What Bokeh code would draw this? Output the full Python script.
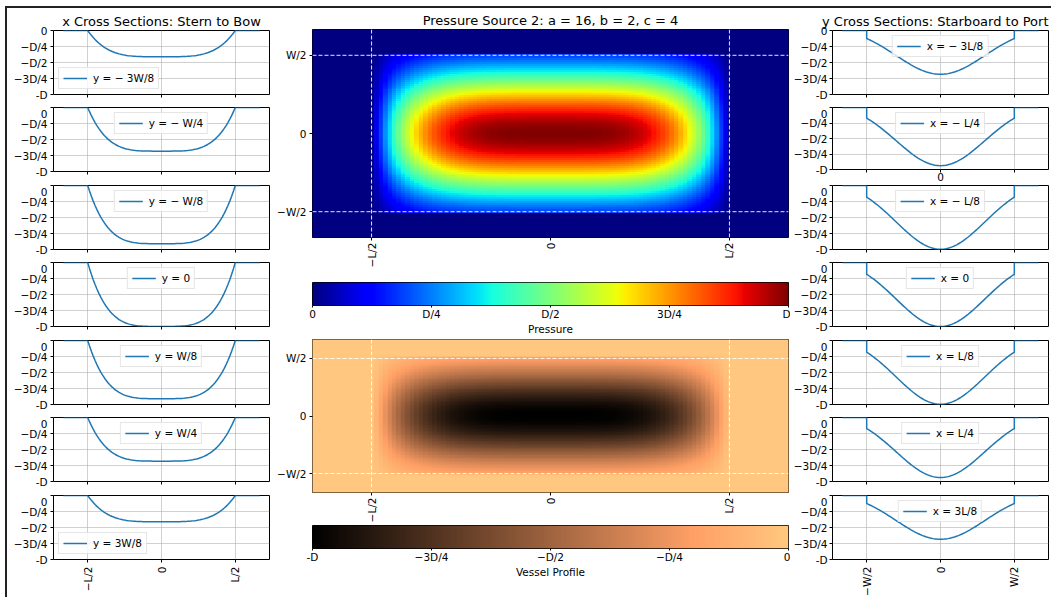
import numpy as np
from bokeh.plotting import figure
from bokeh.layouts import row, column
from bokeh.models import (FixedTicker, LinearColorMapper, Span, Range1d, Div,
                          InlineStyleSheet)
from bokeh.embed import file_html
from bokeh.resources import INLINE

# ---------------- data ----------------
# normalised positions along half length (units of L) / half beam (units of W)
profile_pos = [0.0, 0.0125, 0.025, 0.0375, 0.05, 0.0625, 0.075, 0.0875, 0.1, 0.1125,
               0.125, 0.1375, 0.15, 0.1625, 0.175, 0.1875, 0.2, 0.2125, 0.225, 0.2375,
               0.25, 0.2625, 0.275, 0.2875, 0.3, 0.3125, 0.325, 0.3375, 0.35, 0.3625,
               0.375, 0.3875, 0.4, 0.4125, 0.425, 0.4375, 0.45, 0.4625, 0.475, 0.4875, 0.5]
# relative pressure / depth along the length (x) and across the beam (y)
length_profile = [1.0, 1.0, 1.0, 1.0, 1.0, 1.0, 0.999, 0.999, 0.998, 0.997,
                  0.996, 0.994, 0.992, 0.989, 0.985, 0.980, 0.974, 0.967, 0.959, 0.949,
                  0.938, 0.924, 0.909, 0.891, 0.870, 0.847, 0.821, 0.792, 0.760, 0.724,
                  0.684, 0.639, 0.590, 0.537, 0.478, 0.414, 0.344, 0.268, 0.185, 0.096, 0.0]
beam_profile = [1.0, 0.999, 0.996, 0.992, 0.985, 0.977, 0.967, 0.955, 0.942, 0.927,
                0.910, 0.892, 0.873, 0.852, 0.831, 0.808, 0.784, 0.759, 0.734, 0.708,
                0.682, 0.654, 0.627, 0.600, 0.572, 0.544, 0.517, 0.490, 0.463, 0.436,
                0.410, 0.384, 0.359, 0.334, 0.310, 0.287, 0.265, 0.243, 0.223, 0.203, 0.184]
domain_half = 0.665          # half extent of the computational domain (L and W units)
hull_edges = [-0.5, 0.5]     # -L/2, L/2  and  -W/2, W/2

y_sections = [-0.375, -0.25, -0.125, 0.0, 0.125, 0.25, 0.375]
y_section_labels = ["y = − 3W/8", "y = − W/4", "y = − W/8", "y = 0",
                    "y = W/8", "y = W/4", "y = 3W/8"]
y_legend_loc = ["bottom_left", "top_center", "top_center", "top_center",
                "top_center", "top_center", "bottom_left"]
x_sections = [-0.375, -0.25, -0.125, 0.0, 0.125, 0.25, 0.375]
x_section_labels = ["x = − 3L/8", "x = − L/4", "x = − L/8", "x = 0",
                    "x = L/8", "x = L/4", "x = 3L/8"]

depth_ticks = [0.0, -0.25, -0.5, -0.75, -1.0]
depth_tick_labels = ["0", "−D/4", "−D/2", "−3D/4", "-D"]
pos_ticks = [-0.5, 0.0, 0.5]
length_tick_labels = ["−L/2", "0", "L/2"]
beam_tick_labels = ["−W/2", "0", "W/2"]
pressure_ticks = [0.0, 0.25, 0.5, 0.75, 1.0]
pressure_tick_labels = ["0", "D/4", "D/2", "3D/4", "D"]
profile_ticks = [-1.0, -0.75, -0.5, -0.25, 0.0]
profile_tick_labels = ["-D", "−3D/4", "−D/2", "−D/4", "0"]

# ---------------- helpers ----------------
FONT = "DejaVu Sans"
step = profile_pos[1] - profile_pos[0]
smooth_css = InlineStyleSheet(css="image { image-rendering: auto !important; }")


def lookup(profile, pos):
    a = abs(pos)
    if a > profile_pos[-1] + 1e-9:
        return 0.0
    return profile[int(round(a / step))]


sym_pos = [-p for p in profile_pos[:0:-1]] + profile_pos


def cmap(fr, fg, fb, n=256):
    t = np.linspace(0, 1, n)
    r, g, b = fr(t), fg(t), fb(t)
    return ["#%02x%02x%02x" % (int(round(255 * a)), int(round(255 * c)), int(round(255 * d)))
            for a, c, d in zip(r, g, b)]


jet = cmap(lambda t: np.interp(t, [0, 0.35, 0.66, 0.89, 1], [0, 0, 1, 1, 0.5]),
           lambda t: np.interp(t, [0, 0.125, 0.375, 0.64, 0.91, 1], [0, 0, 1, 1, 0, 0]),
           lambda t: np.interp(t, [0, 0.11, 0.34, 0.65, 1], [0.5, 1, 1, 0, 0]))
copper = cmap(lambda t: np.minimum(1, 1.25 * t), lambda t: 0.7812 * t, lambda t: 0.4975 * t)


def style_axis(ax, ticker, overrides=None, size="10.5px"):
    ax.ticker = ticker
    if overrides:
        ax.major_label_overrides = overrides
    ax.major_label_text_font = FONT
    ax.major_label_text_font_size = size
    ax.major_label_text_color = "black"
    ax.axis_line_color = None
    ax.major_tick_in = 0
    ax.major_tick_out = 3
    ax.minor_tick_in = 0
    ax.minor_tick_out = 3
    ax.major_tick_line_color = "black"
    ax.minor_tick_line_color = "black"


def labelled(ticks, labels):
    return FixedTicker(ticks=ticks), {float(t): l for t, l in zip(ticks, labels)}


def style_title(p, text, align="center"):
    p.title.text = text
    p.title.align = align
    p.title.text_font = FONT
    p.title.text_font_size = "13px"
    p.title.text_font_style = "normal"
    p.title.text_color = "black"
    p.title.standoff = 4


def base_fig(lb, fw, rb, tb, fh, bb, xr, yr):
    p = figure(width=lb + fw + rb, height=tb + fh + bb, frame_width=fw, frame_height=fh,
               min_border_left=lb, min_border_right=rb, min_border_top=tb, min_border_bottom=bb,
               x_range=xr, y_range=yr, output_backend="svg", toolbar_location=None)
    p.outline_line_color = "black"
    p.outline_line_width = 1
    p.background_fill_color = "white"
    p.border_fill_color = "white"
    return p


# vertical layout of the 7 stacked section panels: (top border, frame height, bottom border)
panel_rows = [(30, 64, 13), (0, 64, 14), (0, 64, 13), (0, 64, 14), (0, 64, 13), (0, 64, 14),
              (0, 64, 38)]
sec_range = domain_half * 1.1


def section_panel(i, lb, rb, xs, ys, label, loc, tick_labels, title=None, title_align="center",
                  rows=panel_rows, center_label=False):
    tb, fh, bb = rows[i]
    p = base_fig(lb, 216, rb, tb, fh, bb, Range1d(-sec_range, sec_range), Range1d(-1, 0))
    if title:
        style_title(p, title, title_align)
    p.line(xs, ys, line_color="#1f77b4", line_width=1.5, legend_label=label)
    tk, ov = labelled(depth_ticks, depth_tick_labels)
    style_axis(p.yaxis[0], tk, ov)
    p.yaxis.major_label_standoff = 3
    if i == len(rows) - 1:
        tk, ov = labelled(pos_ticks, tick_labels)
        style_axis(p.xaxis[0], tk, ov)
        p.xaxis.major_label_orientation = np.pi / 2
        p.xaxis.major_label_standoff = 4
    elif center_label:
        mid = pos_ticks[1]
        style_axis(p.xaxis[0], FixedTicker(ticks=[mid], minor_ticks=[pos_ticks[0], pos_ticks[2]]),
                   {float(mid): tick_labels[1]})
        p.xaxis.major_label_standoff = 0
    else:
        style_axis(p.xaxis[0], FixedTicker(ticks=[], minor_ticks=pos_ticks))
    p.xgrid[0].ticker = FixedTicker(ticks=pos_ticks)
    p.ygrid[0].ticker = FixedTicker(ticks=depth_ticks)
    p.grid.grid_line_color = "#b0b0b0"
    p.grid.grid_line_alpha = 0.6
    p.grid.grid_line_width = 1
    lg = p.legend[0]
    lg.location = loc
    lg.margin = 5
    lg.padding = 4
    lg.spacing = 0
    lg.label_height = 12
    lg.glyph_height = 12
    lg.glyph_width = 24
    lg.label_standoff = 6
    lg.label_text_font = FONT
    lg.label_text_font_size = "10.5px"
    lg.label_text_color = "black"
    lg.border_line_color = "#cccccc"
    lg.background_fill_alpha = 0.8
    return p


# ---------------- left column: x cross sections ----------------
left = []
xs_left = [-domain_half] + sym_pos + [domain_half]
for i, (yk, lab, loc) in enumerate(zip(y_sections, y_section_labels, y_legend_loc)):
    depth = lookup(beam_profile, yk)
    vals = [0.0] + [-depth * lookup(length_profile, x) for x in sym_pos] + [0.0]
    left.append(section_panel(i, 53, 1, xs_left, vals, lab, loc, length_tick_labels,
                              title="x Cross Sections: Stern to Bow" if i == 0 else None))

# ---------------- right column: y cross sections ----------------
right_rows = list(panel_rows)
right_rows[1] = (0, 62, 16)
right = []
ys_right = [-domain_half, hull_edges[0]] + sym_pos + [hull_edges[1], domain_half]
for i, (xk, lab) in enumerate(zip(x_sections, x_section_labels)):
    depth = lookup(length_profile, xk)
    vals = [0.0, 0.0] + [-depth * lookup(beam_profile, y) for y in sym_pos] + [0.0, 0.0]
    p = section_panel(i, 41, 4, ys_right, vals, lab, "top_center", beam_tick_labels,
                      title="y Cross Sections: Starboard to Port" if i == 0 else None,
                      title_align="right", rows=right_rows, center_label=(i == 1))
    p.yaxis.major_label_standoff = 2
    right.append(p)

# ---------------- center column: maps and colour bars ----------------
n_half = int(np.ceil(domain_half / step - 1e-9))
centers = np.arange(-n_half, n_half + 1) * step
fx = np.array([lookup(length_profile, c) for c in centers])
gy = np.array([lookup(beam_profile, c) for c in centers])
pressure = np.outer(gy, fx)
vessel = -pressure
img_x0 = centers[0] - step / 2
img_w = len(centers) * step


def map_fig(tb, fh, bb, img, mapper, title=None):
    p = base_fig(42, 476, 2, tb, fh, bb, Range1d(-domain_half, domain_half),
                 Range1d(-domain_half, domain_half))
    p.stylesheets = [smooth_css]
    if title:
        style_title(p, title)
    p.image(image=[img], x=img_x0, y=img_x0, dw=img_w, dh=img_w, color_mapper=mapper)
    tk, ov = labelled(pos_ticks, length_tick_labels)
    style_axis(p.xaxis[0], tk, ov)
    p.xaxis.major_label_orientation = np.pi / 2
    p.xaxis.major_label_standoff = 2
    tk, ov = labelled(pos_ticks, beam_tick_labels)
    style_axis(p.yaxis[0], tk, ov)
    p.yaxis.major_label_standoff = 3
    p.grid.visible = False
    for e in hull_edges:
        for dim in ("height", "width"):
            p.add_layout(Span(location=e, dimension=dim, line_color="white", line_width=1,
                              line_dash="4 2", line_alpha=0.9))
    return p


def bar_fig(bb, lo, hi, palette, ticks, labels, axis_label):
    p = base_fig(42, 476, 2, 0, 23, bb, Range1d(lo, hi), Range1d(0, 1))
    grad = np.linspace(lo, hi, 256).reshape(1, 256)
    p.image(image=[grad], x=lo, y=0, dw=hi - lo, dh=1,
            color_mapper=LinearColorMapper(palette=palette, low=lo, high=hi))
    p.yaxis.visible = False
    p.grid.visible = False
    tk, ov = labelled(ticks, labels)
    style_axis(p.xaxis[0], tk, ov)
    p.xaxis.major_tick_out = 2
    p.xaxis.major_label_standoff = 0
    p.xaxis.axis_label = axis_label
    p.xaxis.axis_label_text_font = FONT
    p.xaxis.axis_label_text_font_size = "10.5px"
    p.xaxis.axis_label_text_font_style = "normal"
    p.xaxis.axis_label_text_color = "black"
    p.xaxis.axis_label_standoff = 0
    return p


c1 = map_fig(29, 208, 45, pressure, LinearColorMapper(palette=jet, low=0, high=1),
             title="Pressure Source 2: a = 16, b = 2, c = 4")
c2 = bar_fig(34, 0.0, 1.0, jet, pressure_ticks, pressure_tick_labels, "Pressure")
c3 = map_fig(0, 153, 33, vessel, LinearColorMapper(palette=copper, low=-1, high=0))
c4 = bar_fig(49, -1.0, 0.0, copper, profile_ticks, profile_tick_labels, "Vessel Profile")

layout = row(column(*left), column(c1, c2, c3, c4), column(*right))

frame_div = Div(text="", width=1046, height=591, margin=0,
                styles={"position": "absolute", "left": "5px", "top": "6px",
                        "border-top": "2px solid #222", "border-left": "2px solid #222",
                        "box-sizing": "border-box", "pointer-events": "none"})

open("out.html", "w").write(file_html([layout, frame_div], INLINE, title="Pressure source"))
